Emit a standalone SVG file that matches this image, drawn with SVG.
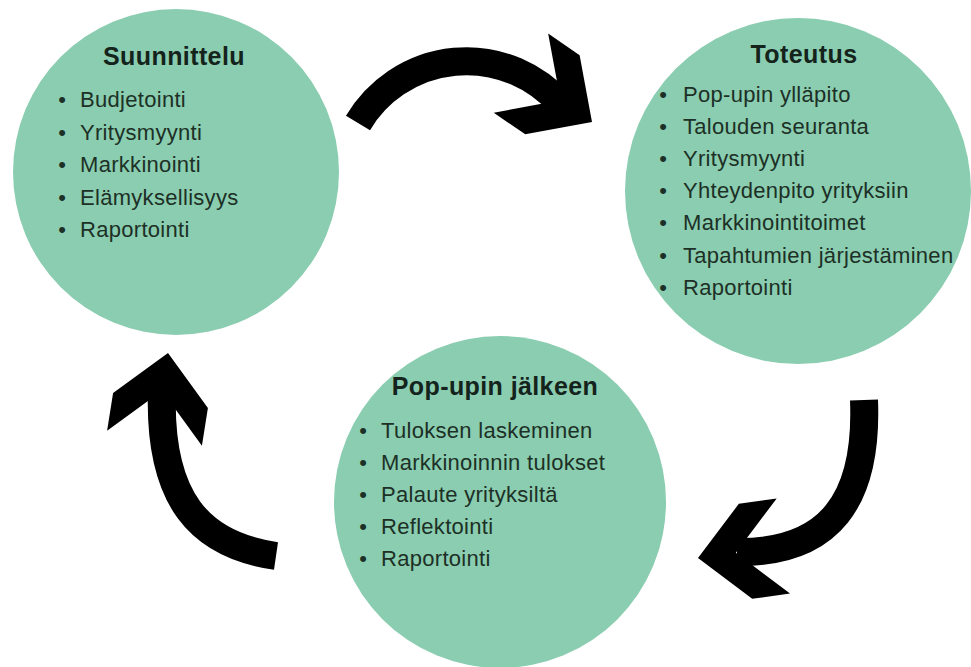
<svg xmlns="http://www.w3.org/2000/svg" xmlns:xlink="http://www.w3.org/1999/xlink" width="971" height="667" viewBox="0 0 971 667">
  <style>
    .disc { fill: #8acdb0; }
    .title { font-family: "Liberation Sans", Arial, sans-serif; font-weight: bold; font-size: 25px; letter-spacing: 0.4px; fill: #14231b; text-anchor: middle; }
    .item { font-family: "Liberation Sans", Arial, sans-serif; font-size: 22px; letter-spacing: 0.3px; fill: #1d3026; }
    .dot { font-family: "Liberation Sans", Arial, sans-serif; font-size: 22px; fill: #1d3026; text-anchor: middle; }
    .shaft { fill: none; stroke: #000; stroke-width: 28; stroke-linecap: butt; }
    .head { fill: #000; }
  </style>
  <defs>
    <!-- right-angle chevron head, tip at origin, pointing along +x -->
    <path id="chevron" class="head" d="M0,0 L-48,-48 L-86.2,-48 L-38.2,0 L-86.2,48 L-48,48 Z"/>
  </defs>

  <rect width="971" height="667" fill="#ffffff"/>

  <g id="node-suunnittelu">
    <circle class="disc" cx="176" cy="172" r="163"/>
    <text class="title" x="174" y="65">Suunnittelu</text>
    <text class="dot" x="62" y="107">•</text><text class="item" x="80" y="107">Budjetointi</text>
    <text class="dot" x="62" y="139.5">•</text><text class="item" x="80" y="139.5">Yritysmyynti</text>
    <text class="dot" x="62" y="172">•</text><text class="item" x="80" y="172">Markkinointi</text>
    <text class="dot" x="62" y="204.5">•</text><text class="item" x="80" y="204.5">Elämyksellisyys</text>
    <text class="dot" x="62" y="237">•</text><text class="item" x="80" y="237">Raportointi</text>
  </g>

  <g id="node-toteutus">
    <circle class="disc" cx="798" cy="191" r="173"/>
    <text class="title" x="804" y="63">Toteutus</text>
    <text class="dot" x="663" y="101.5">•</text><text class="item" x="683" y="101.5">Pop-upin ylläpito</text>
    <text class="dot" x="663" y="133.7">•</text><text class="item" x="683" y="133.7">Talouden seuranta</text>
    <text class="dot" x="663" y="165.9">•</text><text class="item" x="683" y="165.9">Yritysmyynti</text>
    <text class="dot" x="663" y="198.1">•</text><text class="item" x="683" y="198.1">Yhteydenpito yrityksiin</text>
    <text class="dot" x="663" y="230.3">•</text><text class="item" x="683" y="230.3">Markkinointitoimet</text>
    <text class="dot" x="663" y="262.5">•</text><text class="item" x="683" y="262.5">Tapahtumien järjestäminen</text>
    <text class="dot" x="663" y="294.7">•</text><text class="item" x="683" y="294.7">Raportointi</text>
  </g>

  <g id="node-jalkeen">
    <circle class="disc" cx="500" cy="502" r="166"/>
    <text class="title" x="495" y="395">Pop-upin jälkeen</text>
    <text class="dot" x="363" y="437.5">•</text><text class="item" x="381" y="437.5">Tuloksen laskeminen</text>
    <text class="dot" x="363" y="469.7">•</text><text class="item" x="381" y="469.7">Markkinoinnin tulokset</text>
    <text class="dot" x="363" y="501.9">•</text><text class="item" x="381" y="501.9">Palaute yrityksiltä</text>
    <text class="dot" x="363" y="534.1">•</text><text class="item" x="381" y="534.1">Reflektointi</text>
    <text class="dot" x="363" y="566.3">•</text><text class="item" x="381" y="566.3">Raportointi</text>
  </g>

  <g id="connectors">
    <!-- Suunnittelu -> Toteutus -->
    <g id="arrow-top">
      <path class="shaft" d="M358,123 A126,126 0 0 1 561,104"/>
      <use xlink:href="#chevron" transform="translate(592,122) rotate(34.5)"/>
    </g>
    <!-- Toteutus -> Pop-upin jälkeen -->
    <g id="arrow-right">
      <path class="shaft" d="M864,400 C868,500 830,553 737,552"/>
      <use xlink:href="#chevron" transform="translate(698,558) rotate(172)"/>
    </g>
    <!-- Pop-upin jälkeen -> Suunnittelu -->
    <g id="arrow-left">
      <path class="shaft" d="M276,556 C200,545 158,500 162,389"/>
      <use xlink:href="#chevron" transform="translate(168,353) rotate(-81)"/>
    </g>
  </g>
</svg>
